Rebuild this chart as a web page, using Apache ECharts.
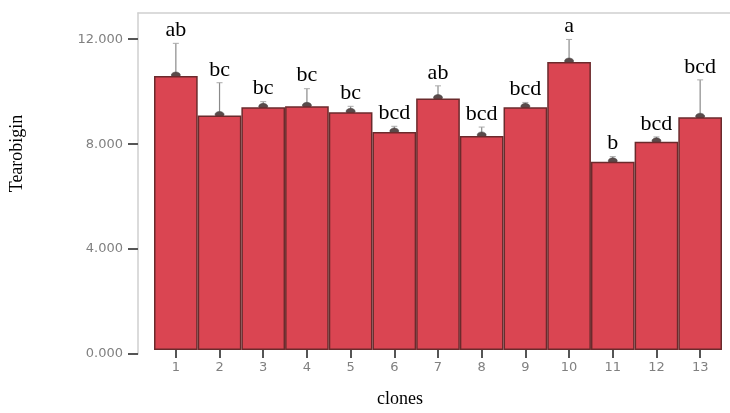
<!DOCTYPE html>
<html>
<head>
<meta charset="utf-8">
<script src="https://cdn.jsdelivr.net/npm/echarts@6/dist/echarts.min.js"></script>
<style>
html,body{margin:0;padding:0;background:#fff;}
#chart{width:730px;height:413px;}
</style>
</head>
<body>
<div id="chart"></div>
<script>
var categories = ['1','2','3','4','5','6','7','8','9','10','11','12','13'];
var means = [10.57, 9.05, 9.36, 9.40, 9.17, 8.41, 9.70, 8.26, 9.36, 11.11, 7.26, 8.03, 8.98];
var upper = [11.83, 10.31, 9.58, 10.08, 9.40, 8.63, 10.19, 8.60, 9.55, 11.98, 7.46, 8.22, 10.42];
var letters = ['ab','bc','bc','bc','bc','bcd','ab','bcd','bcd','a','b','bcd','bcd'];
var yTicks = [0, 4, 8, 12];

var chart = echarts.init(document.getElementById('chart'), null, {renderer: 'canvas'});

var errData = categories.map(function (c, i) { return [i, means[i], upper[i]]; });

var option = {
  backgroundColor: '#ffffff',
  animation: false,
  grid: [
    {left: 154, right: 8, top: 13, bottom: 59},
    {left: 137, right: 0, top: 13, bottom: 59}
  ],
  xAxis: [
    {
      type: 'category', gridIndex: 0, data: categories,
      axisLine: {show: false},
      axisTick: {show: true, alignWithLabel: true, length: 8, lineStyle: {color: '#555', width: 2}},
      axisLabel: {color: '#808080', fontSize: 13, fontFamily: 'DejaVu Sans, sans-serif', margin: 11},
      name: 'clones', nameLocation: 'middle', nameGap: 40,
      nameTextStyle: {fontFamily: 'Liberation Serif, Times New Roman, serif', fontSize: 18, color: '#000', padding: [0, 76, 0, 0]}
    },
    {
      type: 'value', gridIndex: 1, position: 'top', min: 0, max: 1,
      axisLine: {show: true, onZero: false, lineStyle: {color: '#cfcfcf', width: 1.5}},
      axisTick: {show: false}, axisLabel: {show: false}, splitLine: {show: false}
    }
  ],
  yAxis: [
    {
      type: 'value', gridIndex: 0, min: 0, max: 13, show: false, splitLine: {show: false}
    },
    {
      type: 'value', gridIndex: 1, min: 0, max: 13,
      axisLine: {show: true, onZero: false, lineStyle: {color: '#cfcfcf', width: 1.5}},
      axisTick: {show: true, length: 10, customValues: yTicks, lineStyle: {color: '#555', width: 2}},
      axisLabel: {
        customValues: yTicks, color: '#808080', fontSize: 13, margin: 15,
        fontFamily: 'DejaVu Sans, sans-serif',
        formatter: function (v) { return v.toFixed(3); }
      },
      splitLine: {show: false},
      name: 'Tearobigin', nameLocation: 'middle', nameGap: 112, nameRotate: 90,
      nameTextStyle: {fontFamily: 'Liberation Serif, Times New Roman, serif', fontSize: 18, color: '#000', padding: [0, 0, 0, 60]}
    }
  ],
  series: [
    {
      type: 'bar', xAxisIndex: 0, yAxisIndex: 0, data: means,
      barCategoryGap: '0%',
      itemStyle: {color: '#da4552', borderColor: '#6b2a2c', borderWidth: 1.5}
    },
    {
      type: 'custom', xAxisIndex: 0, yAxisIndex: 0, data: errData,
      renderItem: function (params, api) {
        var i = api.value(0);
        var pm = api.coord([i, api.value(1)]);
        var pu = api.coord([i, api.value(2)]);
        var letter = letters[params.dataIndex];
        return {
          type: 'group',
          children: [
            {type: 'line', shape: {x1: pm[0], y1: pm[1], x2: pu[0], y2: pu[1]}, style: {stroke: '#8a8a8a', lineWidth: 1.2}},
            {type: 'line', shape: {x1: pu[0] - 3, y1: pu[1], x2: pu[0] + 3, y2: pu[1]}, style: {stroke: '#aaaaaa', lineWidth: 1}},
            {type: 'ellipse', shape: {cx: pm[0], cy: pm[1] - 1, rx: 4.5, ry: 3}, style: {fill: '#5a4a4a', stroke: '#444', lineWidth: 0.5}},
            {type: 'text', x: pu[0], y: pu[1] - 2, style: {
              text: letter, fill: '#000', fontSize: 22,
              fontFamily: 'Liberation Serif, Times New Roman, serif',
              align: 'center', verticalAlign: 'bottom'
            }}
          ]
        };
      }
    }
  ]
};
chart.setOption(option);
</script>
</body>
</html>
